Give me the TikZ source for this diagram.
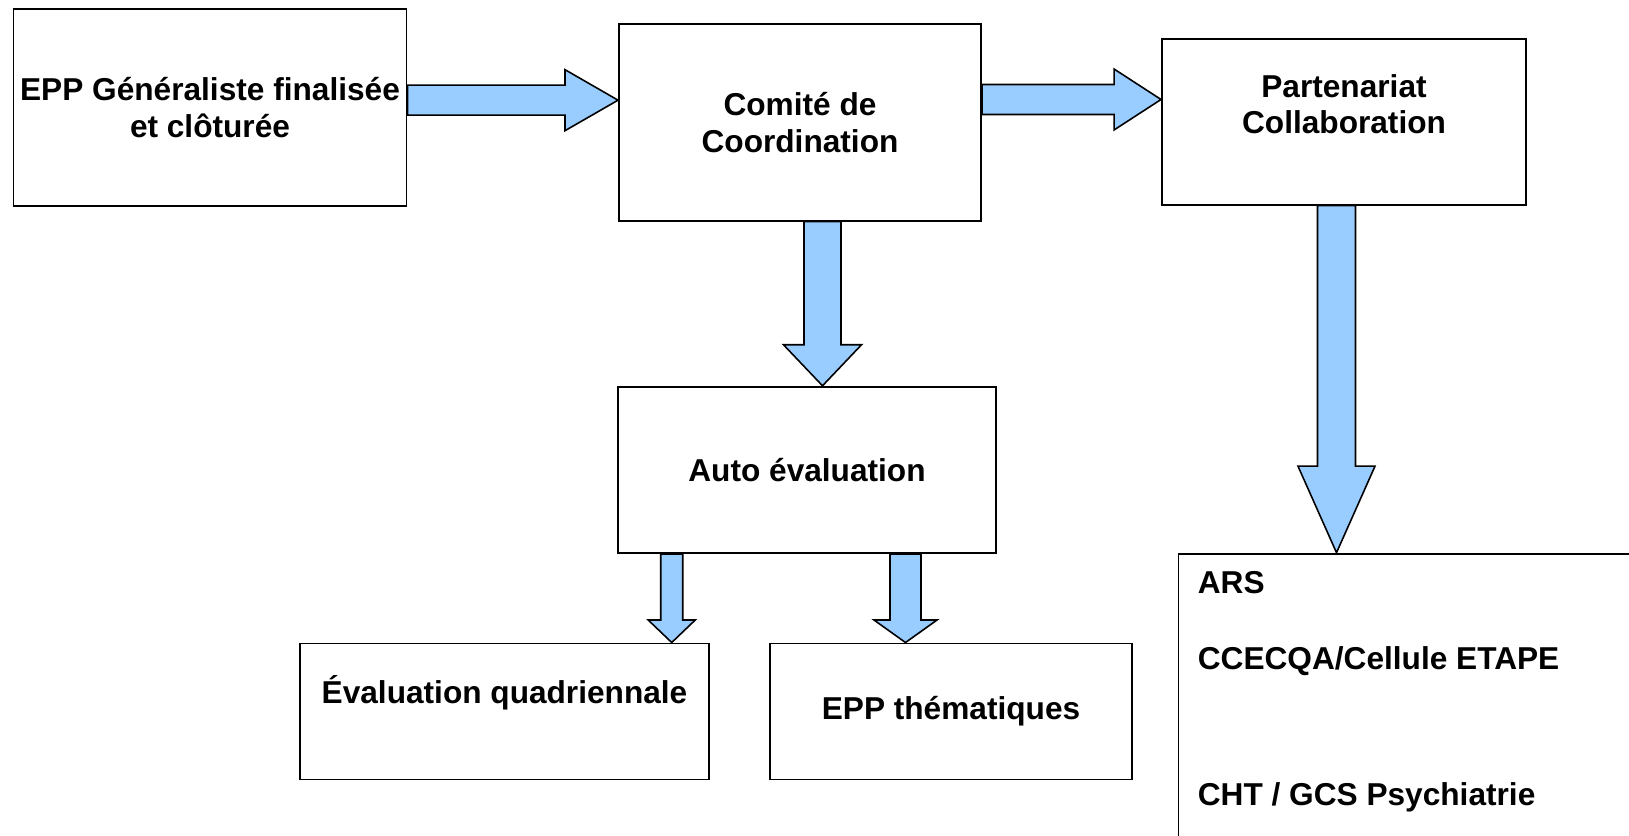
\documentclass[tikz,border=0pt]{standalone}
\usepackage{fontspec}
\setmainfont{Liberation Sans}
\usetikzlibrary{calc}
\definecolor{flechebleu}{HTML}{99CCFF}

\begin{document}
\begin{tikzpicture}
	[
		line join=miter,
		boite/.style={draw,line width=1.1pt,inner sep=0pt,align=center,font=\bfseries\fontsize{18}{20.7}\selectfont},
		texte/.style={inner sep=0pt,align=center,font=\bfseries\fontsize{18}{20.7}\selectfont},
		fleche/.style={draw,line width=0.9pt,fill=flechebleu},
		versdroite/.style n args={3}{to path={let \p1=(\tikztostart), \p2=(\tikztotarget) in
			(\x1,\y2+#1) -- (\x2-#3,\y2+#1) -- (\x2-#3,\y2+#2) -- (\x2,\y2) -- (\x2-#3,\y2-#2) -- (\x2-#3,\y2-#1) -- (\x1,\y2-#1) -- cycle}},
		versbas/.style n args={3}{to path={let \p1=(\tikztostart), \p2=(\tikztotarget) in
			(\x2-#1,\y1) -- (\x2-#1,\y2+#3) -- (\x2-#2,\y2+#3) -- (\x2,\y2) -- (\x2+#2,\y2+#3) -- (\x2+#1,\y2+#3) -- (\x2+#1,\y1) -- cycle}}
	]
		\useasboundingbox (0,0) rectangle (32.58,16.72);
		\node [boite,minimum width=7.86cm,minimum height=3.93cm] (epp) at (4.20,14.57) {EPP Généraliste finalisée\\et clôturée};
		\node [boite,minimum width=7.24cm,minimum height=3.93cm] (comite) at (16.00,14.27) {Comité de\\Coordination};
		\node [boite,minimum width=7.28cm,minimum height=3.31cm] (part) at (26.88,14.28) {};
		\node [texte] (parttexte) at ([yshift=0.36cm]part.center) {Partenariat\\Collaboration};
		\node [boite,minimum width=7.55cm,minimum height=3.33cm] (auto) at (16.14,7.32) {Auto évaluation};
		\node [boite,minimum width=8.17cm,minimum height=2.72cm] (quad) at (10.09,2.49) {};
		\node [texte] (quadtexte) at ([yshift=0.38cm]quad.center) {Évaluation quadriennale};
		\node [boite,minimum width=7.25cm,minimum height=2.72cm] (them) at (19.02,2.49) {EPP thématiques};
		\node [boite,anchor=north west,minimum width=10cm,minimum height=7cm] (reseau) at (23.55,5.666) {};
		\node [texte,align=left,anchor=north west] (reseautexte) at ([xshift=0.40cm,yshift=-0.37cm]reseau.north west) {ARS\\[22.5pt]CCECQA/Cellule ETAPE\\[56.8pt]CHT / GCS Psychiatrie};
		\draw [fleche] (epp.east) to[versdroite={0.30cm}{0.61cm}{1.06cm}] ([yshift=0.446cm]comite.west);
		\draw [fleche] (comite.east) to[versdroite={0.30cm}{0.61cm}{0.94cm}] ([yshift=0.45cm]part.west);
		\draw [fleche] (comite.south) to[versbas={0.37cm}{0.78cm}{0.82cm}] ([xshift=0.31cm]auto.north);
		\draw [fleche] (part.south) to[versbas={0.38cm}{0.77cm}{1.73cm}] ([xshift=3.18cm]reseau.north west);
		\draw [fleche] (auto.south) to[versbas={0.22cm}{0.47cm}{0.45cm}] ([xshift=-0.76cm]quad.north east);
		\draw [fleche] (auto.south) to[versbas={0.31cm}{0.63cm}{0.45cm}] ([xshift=-0.91cm]them.north);
	\end{tikzpicture}
\end{document}
